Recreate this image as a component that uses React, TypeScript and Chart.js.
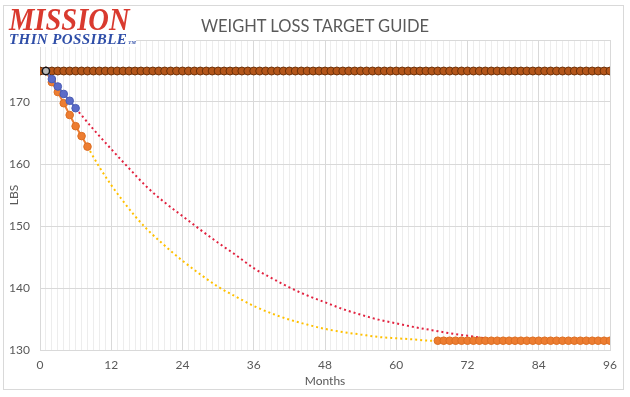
import React, { useEffect, useRef } from "react";
import { Chart, registerables } from "chart.js";

Chart.register(...registerables);

const TITLE = "WEIGHT LOSS TARGET GUIDE";
const X_TITLE = "Months";
const Y_TITLE = "LBS";
const X_TICKS = [0, 12, 24, 36, 48, 60, 72, 84, 96];
const Y_TICKS = [130, 140, 150, 160, 170];

// starting weight line (months 0..96)
const baselineMonths = Array.from({ length: 97 }, (_, i) => i);
const baselineLbs = [
  175, 175, 175, 175, 175, 175, 175, 175, 175, 175, 175, 175, 175, 175, 175, 175, 175, 175, 175, 175,
  175, 175, 175, 175, 175, 175, 175, 175, 175, 175, 175, 175, 175, 175, 175, 175, 175, 175, 175, 175,
  175, 175, 175, 175, 175, 175, 175, 175, 175, 175, 175, 175, 175, 175, 175, 175, 175, 175, 175, 175,
  175, 175, 175, 175, 175, 175, 175, 175, 175, 175, 175, 175, 175, 175, 175, 175, 175, 175, 175, 175,
  175, 175, 175, 175, 175, 175, 175, 175, 175, 175, 175, 175, 175, 175, 175, 175, 175,
];

const startMonths = [1];
const startLbs = [175];

const actualMonths = [1, 2, 3, 4, 5, 6];
const actualLbs = [175, 173.7, 172.5, 171.3, 170.2, 169.0];

const fastMonths = [1, 2, 3, 4, 5, 6, 7, 8];
const fastLbs = [175, 173.2, 171.6, 169.8, 167.9, 166.1, 164.5, 162.8];

const redMonths = [6, 9, 12, 15, 18, 21, 24, 27, 30, 33, 36, 39, 42, 45, 48, 51, 54, 57, 60, 63, 66, 69, 72, 75, 78, 80];
const redLbs = [
  169.0, 165.6, 162.4, 159.3, 156.3, 153.8, 151.6, 149.4, 147.3, 145.3, 143.2, 141.6, 140.1, 138.8, 137.7,
  136.6, 135.7, 134.9, 134.3, 133.7, 133.2, 132.7, 132.3, 131.9, 131.6, 131.5,
];

const yellowMonths = [8, 10, 12, 14, 16, 18, 20, 22, 24, 27, 30, 33, 36, 39, 42, 45, 48, 51, 54, 57, 60, 63, 66, 67];
const yellowLbs = [
  162.8, 159.5, 156.6, 154.0, 151.6, 149.5, 147.7, 146.0, 144.4, 142.2, 140.2, 138.6, 137.1, 135.9, 134.9,
  134.1, 133.4, 132.9, 132.5, 132.1, 131.9, 131.7, 131.5, 131.5,
];

const goalMonths = [
  67, 68, 69, 70, 71, 72, 73, 74, 75, 76, 77, 78, 79, 80, 81, 82, 83, 84, 85, 86, 87, 88, 89, 90, 91, 92, 93, 94, 95, 96,
];
const goalLbs = [
  131.5, 131.5, 131.5, 131.5, 131.5, 131.5, 131.5, 131.5, 131.5, 131.5, 131.5, 131.5, 131.5, 131.5, 131.5,
  131.5, 131.5, 131.5, 131.5, 131.5, 131.5, 131.5, 131.5, 131.5, 131.5, 131.5, 131.5, 131.5, 131.5, 131.5,
];

const pts = (xs: number[], ys: number[]) => xs.map((x, i) => ({ x, y: ys[i] }));

const FONT = "Lato, 'Open Sans', sans-serif";
const TEXT = "#595959";

export default function App() {
  const ref = useRef<HTMLCanvasElement | null>(null);

  useEffect(() => {
    if (!ref.current) return;
    const chart = new Chart(ref.current, {
      type: "line",
      data: {
        datasets: [
          {
            label: "start",
            data: pts(startMonths, startLbs),
            showLine: false,
            pointRadius: 3.6,
            pointBackgroundColor: "#B8B8B8",
            pointBorderColor: "#111111",
            pointBorderWidth: 1.4,
            order: 0,
          },
          {
            label: "actual",
            data: pts(actualMonths, actualLbs),
            borderColor: "#5A6FC4",
            borderWidth: 2,
            pointRadius: 3.8,
            pointBackgroundColor: "#5B6CC8",
            pointBorderColor: "#4A5CB4",
            pointBorderWidth: 1,
            order: 1,
          },
          {
            label: "fast",
            data: pts(fastMonths, fastLbs),
            borderColor: "#ED7D31",
            borderWidth: 2,
            pointRadius: 3.8,
            pointBackgroundColor: "#ED7D31",
            pointBorderColor: "#DC6E22",
            pointBorderWidth: 1,
            order: 2,
          },
          {
            label: "goal",
            data: pts(goalMonths, goalLbs),
            borderColor: "#ED7D31",
            borderWidth: 2,
            pointRadius: 3.8,
            pointBackgroundColor: "#ED7D31",
            pointBorderColor: "#DC6E22",
            pointBorderWidth: 1,
            order: 2,
          },
          {
            label: "baseline",
            data: pts(baselineMonths, baselineLbs),
            borderColor: "#5E2A06",
            borderWidth: 3,
            pointRadius: 4,
            pointBackgroundColor: "#B4561A",
            pointBorderColor: "#6E3108",
            pointBorderWidth: 1,
            order: 3,
          },
          {
            label: "slow target",
            data: pts(redMonths, redLbs),
            borderColor: "#E2223F",
            borderWidth: 2,
            borderDash: [2, 3],
            pointRadius: 0,
            cubicInterpolationMode: "monotone",
            order: 4,
          },
          {
            label: "fast target",
            data: pts(yellowMonths, yellowLbs),
            borderColor: "#FFC000",
            borderWidth: 2,
            borderDash: [2, 3],
            pointRadius: 0,
            cubicInterpolationMode: "monotone",
            order: 5,
          },
        ],
      },
      options: {
        responsive: false,
        animation: false,
        devicePixelRatio: 1,
        layout: { padding: { left: 4, right: 20, top: 40, bottom: 7 } },
        plugins: {
          legend: { display: false },
          tooltip: { enabled: false },
          title: { display: false },
        },
        scales: {
          x: {
            type: "linear",
            min: 0,
            max: 96,
            afterFit: (s: any) => {
              s.height = 40;
            },
            ticks: {
              stepSize: 1,
              autoSkip: false,
              maxRotation: 0,
              padding: 8,
              color: TEXT,
              font: { family: FONT, size: 12 },
              callback: (v: any) => (X_TICKS.includes(Number(v)) ? String(v) : ""),
            },
            grid: {
              drawTicks: false,
              color: (c: any) => (c.tick && X_TICKS.includes(c.tick.value) ? "#D9D9D9" : "#EDEDED"),
              lineWidth: 1,
            },
            border: { display: true, color: "#D9D9D9" },
            title: {
              display: true,
              text: X_TITLE,
              color: TEXT,
              font: { family: FONT, size: 12 },
              padding: { top: 0, bottom: 2 },
            },
          },
          y: {
            type: "linear",
            min: 130,
            max: 180,
            afterFit: (s: any) => {
              s.width = 36;
            },
            ticks: {
              stepSize: 10,
              padding: 10,
              color: TEXT,
              font: { family: FONT, size: 12 },
              callback: (v: any) => (Y_TICKS.includes(Number(v)) ? String(v) : ""),
            },
            grid: { drawTicks: false, color: "#D9D9D9", lineWidth: 1 },
            border: { display: true, color: "#D9D9D9" },
            title: {
              display: true,
              text: Y_TITLE,
              color: TEXT,
              font: { family: FONT, size: 12 },
              padding: { top: 3, bottom: 0 },
            },
          },
        },
      },
    } as any);
    return () => chart.destroy();
  }, []);

  return (
    <div style={{ position: "fixed", left: 0, top: 0, width: 630, height: 397, background: "#fff", overflow: "hidden" }}>
      <div
        style={{
          position: "absolute",
          left: 3,
          top: 5,
          width: 621,
          height: 385,
          border: "1px solid #D9D9D9",
          boxSizing: "border-box",
        }}
      />
      <canvas ref={ref} width={630} height={397} style={{ position: "absolute", left: 0, top: 0, width: 630, height: 397 }} />
      <div
        style={{
          position: "absolute",
          left: 0,
          width: 630,
          top: 16,
          textAlign: "center",
          fontFamily: FONT,
          fontSize: 16.5,
          lineHeight: "20px",
          color: TEXT,
          whiteSpace: "nowrap",
        }}
      >
        {TITLE}
      </div>
      <div
        style={{
          position: "absolute",
          left: 6,
          top: 6,
          width: 130,
          height: 41,
          background: "#fff",
        }}
      >
        <div
          style={{
            position: "absolute",
            left: 3,
            top: -2,
            fontFamily: "'Liberation Serif', serif",
            fontWeight: "bold",
            fontStyle: "italic",
            fontSize: 31,
            color: "#D93A2F",
            lineHeight: "31px",
            transform: "scaleX(0.92)",
            transformOrigin: "left top",
            whiteSpace: "nowrap",
          }}
        >
          MISSION
        </div>
        <div
          style={{
            position: "absolute",
            left: 3,
            top: 26,
            fontFamily: "'Liberation Serif', serif",
            fontWeight: "bold",
            fontStyle: "italic",
            fontSize: 15,
            letterSpacing: 0.4,
            color: "#2F4EA8",
            lineHeight: "15px",
            whiteSpace: "nowrap",
          }}
        >
          THIN POSSIBLE
          <span style={{ fontSize: 5, marginLeft: 1, verticalAlign: "baseline" }}>TM</span>
        </div>
      </div>
    </div>
  );
}
